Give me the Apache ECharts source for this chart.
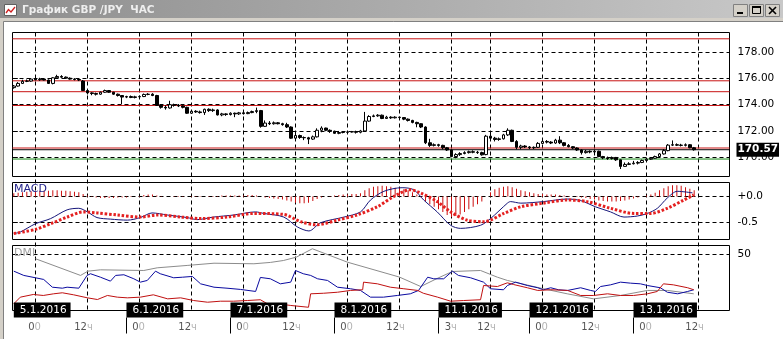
<!DOCTYPE html>
<html><head><meta charset="utf-8">
<script src="https://cdn.jsdelivr.net/npm/echarts@6.0.0/dist/echarts.min.js"></script>
<style>html,body{margin:0;padding:0;background:#d4d0c8;}#c{width:783px;height:339px;background:#fff;}</style>
</head><body><div id="c"></div>
<script>
// ---- data (hourly bars, index 0 = 4.1.2016 19:00) ----
const candleOHLC = [
[175.30,175.42,175.22,175.50],[175.42,175.62,175.38,175.72],[175.62,175.78,175.58,175.90],[175.78,175.80,175.72,175.92],
[175.80,175.95,175.75,176.02],[175.95,175.90,175.85,176.00],[175.90,175.95,175.82,176.05],[175.95,175.88,175.85,176.00],
[175.88,175.62,175.58,175.92],[175.62,176.05,175.55,176.10],[176.05,176.15,176.00,176.28],[176.15,176.10,176.05,176.25],
[176.10,176.02,175.98,176.15],[176.02,175.95,175.90,176.08],[175.95,175.92,175.85,176.02],[175.92,175.88,175.80,176.00],
[175.80,175.08,175.04,175.88],[175.08,174.90,174.78,175.10],[174.90,174.85,174.72,174.95],[174.85,174.80,174.70,174.92],
[174.80,174.95,174.75,175.00],[174.95,175.08,174.90,175.15],[175.08,174.95,174.90,175.12],[174.95,174.80,174.75,174.98],
[174.80,174.70,174.62,174.85],[174.70,174.58,174.05,174.72],[174.58,174.62,174.50,174.68],[174.62,174.55,174.50,174.70],
[174.55,174.60,174.48,174.68],[174.60,174.62,174.55,174.70],[174.62,174.78,174.58,174.85],[174.78,174.80,174.72,174.88],
[174.80,174.70,174.65,174.88],[174.70,173.95,173.90,174.75],[173.95,173.80,173.70,174.00],[173.80,173.75,173.62,173.95],
[173.75,174.00,173.70,174.30],[174.00,173.95,173.85,174.08],[173.95,173.90,173.82,174.05],[173.90,173.80,173.72,173.95],
[173.80,173.35,173.30,173.85],[173.35,173.50,173.30,173.60],[173.50,173.45,173.38,173.58],[173.45,173.40,173.32,173.55],
[173.40,173.65,173.22,173.70],[173.65,173.55,173.45,173.72],[173.55,173.60,173.45,173.70],[173.60,173.22,173.18,173.65],
[173.22,173.30,173.12,173.38],[173.30,173.25,173.15,173.35],[173.25,173.35,173.18,173.42],[173.35,173.30,173.05,173.40],
[173.30,173.38,173.22,173.45],[173.38,173.32,173.25,173.45],[173.32,173.40,173.28,173.48],[173.40,173.48,173.35,173.55],
[173.48,173.55,173.35,173.78],[173.55,172.35,172.25,173.60],[172.35,172.60,172.30,172.80],[172.60,172.55,172.45,172.75],
[172.55,172.62,172.48,172.72],[172.62,172.55,172.50,172.68],[172.55,172.48,172.40,172.62],[172.48,172.30,172.22,172.62],
[172.30,171.45,171.40,172.35],[171.45,171.65,171.30,171.80],[171.65,171.50,171.40,171.72],[171.50,171.48,171.30,171.58],
[171.48,171.38,171.00,171.55],[171.38,171.55,171.32,171.65],[171.55,172.05,171.50,172.20],[172.05,172.22,171.90,172.35],
[172.22,172.05,171.98,172.25],[172.05,171.98,171.85,172.12],[171.98,171.82,171.78,172.02],[171.82,171.88,171.75,172.00],
[171.88,171.90,171.82,171.95],[171.90,171.92,171.82,172.00],[171.92,171.95,171.88,172.00],[171.95,171.90,171.80,172.02],
[171.90,172.00,171.82,172.08],[172.00,172.75,171.95,173.45],[172.75,173.10,172.70,173.20],[173.10,173.15,173.05,173.25],
[173.15,173.20,173.08,173.28],[173.20,172.95,172.90,173.25],[172.95,173.05,172.92,173.15],[173.05,173.00,172.92,173.12],
[173.00,173.05,172.95,173.12],[173.05,173.02,172.95,173.08],[173.02,172.90,172.82,173.05],[172.90,172.80,172.72,172.95],
[172.80,172.65,172.58,172.85],[172.65,172.55,172.28,172.70],[172.55,172.30,172.22,172.58],[172.30,171.10,171.00,172.35],
[171.10,170.90,170.78,171.40],[170.90,170.95,170.82,171.05],[170.95,170.90,170.80,171.02],[170.90,170.72,170.60,170.95],
[170.72,170.55,170.48,170.78],[170.55,170.05,170.00,170.60],[170.05,170.20,169.92,170.30],[170.20,170.28,170.10,170.38],
[170.28,170.35,170.22,170.45],[170.35,170.42,170.28,170.50],[170.42,170.38,170.30,170.52],[170.38,170.35,170.25,170.48],
[170.35,170.18,170.12,170.42],[170.20,171.60,170.15,171.70],[171.60,171.45,171.30,171.82],[171.45,171.35,171.20,171.55],
[171.35,171.40,171.25,171.50],[171.40,171.70,171.35,171.78],[171.70,172.05,171.62,172.20],[172.05,171.20,171.15,172.10],
[171.20,170.75,170.60,171.30],[170.75,170.85,170.60,170.95],[170.85,170.78,170.70,170.92],[170.78,170.72,170.62,170.85],
[170.72,170.75,170.62,170.82],[170.75,171.05,170.70,171.15],[171.05,171.20,171.00,171.35],[171.20,171.15,171.05,171.30],
[171.15,171.08,171.00,171.22],[171.08,171.30,171.02,171.40],[171.30,171.10,171.00,171.60],[171.10,170.90,170.82,171.15],
[170.90,170.80,170.75,171.00],[170.80,170.70,170.62,170.85],[170.70,170.55,170.48,170.75],[170.55,170.35,170.20,170.62],
[170.35,170.45,170.28,170.55],[170.45,170.40,170.30,170.52],[170.40,170.45,170.32,170.58],[170.45,170.05,170.00,170.50],
[170.05,169.95,169.85,170.10],[169.95,169.90,169.80,170.05],[169.90,169.98,169.82,170.05],[169.98,169.80,169.72,170.02],
[169.80,169.30,169.10,169.82],[169.30,169.45,169.28,169.60],[169.45,169.50,169.40,169.62],[169.50,169.55,169.45,169.72],
[169.55,169.60,169.45,169.70],[169.60,169.75,169.55,169.82],[169.75,169.85,169.70,169.95],[169.85,169.92,169.80,170.00],
[169.92,170.05,169.88,170.12],[170.05,170.25,170.00,170.32],[170.25,170.50,170.20,170.62],[170.50,170.92,170.45,171.00],
[170.92,170.95,170.85,171.28],[170.95,170.92,170.85,171.05],[170.92,170.90,170.82,171.02],[170.90,170.95,170.82,171.05],
[170.95,170.72,170.68,171.00],[170.72,170.57,170.50,170.78]
];
const histVals = [
0.06,0.07,0.08,0.09,0.10,0.10,0.11,0.11,0.11,0.12,
0.12,0.11,0.11,0.10,0.09,0.08,0.05,0.02,-0.01,-0.02,
-0.03,-0.03,-0.03,-0.03,-0.02,-0.02,-0.02,-0.01,0,0.01,
0.03,0.04,0.04,0.02,0.01,0,0,0.01,0.01,0.01,
0,-0.01,-0.01,-0.01,0,0.01,0.01,0.01,0.02,0.02,
0.02,0.02,0.02,0.02,0.03,0.03,0.02,0,-0.02,-0.03,
-0.04,-0.05,-0.06,-0.08,-0.10,-0.12,-0.13,-0.13,-0.12,-0.09,
-0.05,-0.02,0,0.01,0.02,0.03,0.04,0.04,0.05,0.05,
0.06,0.12,0.16,0.19,0.20,0.21,0.20,0.19,0.17,0.16,
0.14,0.12,0.08,0.04,-0.02,-0.10,-0.15,-0.20,-0.25,-0.30,
-0.36,-0.40,-0.38,-0.35,-0.30,-0.25,-0.20,-0.15,-0.10,0,
0.08,0.14,0.17,0.19,0.20,0.18,0.15,0.12,0.10,0.08,
0.06,0.05,0.05,0.04,0.04,0.04,0.03,0.02,0.01,0,
-0.01,-0.02,-0.03,-0.05,-0.06,-0.08,-0.09,-0.10,-0.10,-0.10,
-0.09,-0.08,-0.06,-0.04,-0.02,0,0.02,0.04,0.07,0.12,
0.16,0.20,0.22,0.22,0.21,0.18,0.15,0.12
];
const macdPts = [[0,-0.72],[1.5,-0.69],[5,-0.53],[8.5,-0.43],[12.3,-0.26],[15,-0.23],[17,-0.30],[19.2,-0.41],[22.3,-0.44],[26.2,-0.46],[29.2,-0.41],[31.9,-0.32],[35.4,-0.36],[40,-0.41],[42.3,-0.45],[46.1,-0.40],[50.8,-0.36],[55.8,-0.30],[57.7,-0.33],[62.3,-0.40],[65.4,-0.59],[68.1,-0.67],[70.8,-0.51],[76.2,-0.40],[80,-0.30],[82.3,-0.07],[85.4,0.10],[89.6,0.17],[92.3,0.13],[94.6,-0.07],[97.7,-0.30],[100.8,-0.56],[103.1,-0.62],[107.7,-0.56],[110,-0.43],[113.9,-0.13],[114.6,-0.10],[117,-0.13],[122.2,-0.10],[127.7,-0.05],[130.8,-0.08],[134.2,-0.20],[137.7,-0.30],[140.8,-0.40],[143.9,-0.38],[146.2,-0.33],[148.5,-0.23],[150.8,-0.03],[153.1,0.10],[156.6,0.07]];
const signalPts = [[0,-0.72],[5,-0.64],[8.5,-0.53],[12.3,-0.40],[16.1,-0.30],[19.2,-0.32],[23.9,-0.36],[29.2,-0.40],[33.1,-0.36],[38.5,-0.40],[43.1,-0.43],[49.2,-0.40],[55.4,-0.33],[62.3,-0.35],[66.2,-0.49],[70,-0.55],[74.6,-0.46],[79.2,-0.36],[83.9,-0.20],[87.7,0.0],[91.5,0.13],[93.8,0.07],[97.7,-0.10],[100.8,-0.30],[104.6,-0.46],[108.5,-0.49],[113.1,-0.33],[117,-0.20],[122.2,-0.13],[127.7,-0.07],[132.3,-0.10],[137.7,-0.23],[143.1,-0.33],[146.9,-0.33],[150.8,-0.23],[154.6,-0.07],[156.9,0.03]];
const adxPts = [[5,46.2],[15.4,31.3],[17.1,35.1],[20,36.3],[30,35.7],[33.1,38.1],[40,40.2],[46.2,42.2],[55.4,41.7],[59.2,42.9],[62.2,44.6],[65.2,47.6],[68.9,55.1],[73,49],[77,43.1],[89,29.8],[93.9,21.4],[97.7,28.6],[101.2,34.8],[107.7,35.7],[111.6,29.7],[113.9,26.8],[122.2,19.4],[127.7,14.9],[133.8,10.4],[140,13.4],[146.2,17.9],[150.8,17.9],[156.9,14.9]];
const plusDiPts = [[0,35.1],[2.3,31.3],[5,29.2],[6.9,27.7],[8.9,20.8],[11.2,19.9],[12.3,20.8],[15,19.9],[16.9,31.3],[17.7,32.8],[20,29.7],[22.3,26.2],[23.5,31.3],[25.4,31.9],[27.7,28.3],[29.2,25.3],[30.8,26.8],[32.7,35.1],[33.8,32.8],[36.9,29.2],[38.9,29.7],[41.2,30.4],[43.1,23.8],[46.2,20.8],[49.2,19.9],[52.3,18.8],[55.8,17],[56.9,29.5],[59.2,28.3],[61.5,23.8],[63.9,25.3],[65,35.7],[66.8,32.8],[68.5,31.3],[70.1,28.3],[72.4,26.8],[74.7,20.8],[77.7,19.4],[80,17.9],[82.3,11.9],[85.3,11.9],[88.5,13.4],[91.5,14.9],[93.4,17.9],[95.5,29.7],[96.9,28.3],[99.2,28.3],[101.2,35.1],[102.6,31.3],[105.4,29.2],[108.4,25.3],[110,19.4],[113,18.5],[113.9,22.3],[115.8,25.3],[118.5,22.3],[120.9,20.3],[122.2,18.5],[123.9,20.3],[125.7,18.5],[127.8,17.9],[130.8,20.3],[133.1,17.9],[134.2,17],[135.4,21.4],[137.7,22.9],[140,25.3],[142.3,24.4],[144.6,23.8],[146.2,22.3],[149.2,20.3],[150.8,16.3],[153.2,14.9],[155.5,17],[156.9,18.5]];
const minusDiPts = [[0,6],[1.5,11.9],[4.5,14.3],[6.8,13.4],[9.2,14.9],[11.2,15.8],[13.8,14],[17,11.3],[19.3,9.8],[21.6,13.4],[23.9,11.9],[26.2,11.3],[29.2,11.9],[32.2,14],[35.5,10.4],[38.5,11.3],[41.5,8.9],[44.7,7.4],[47.7,8.3],[50.7,8.3],[53.9,8.9],[56.9,9.6],[58.5,6],[60.8,6],[63.9,4.5],[68,2.9],[68.5,14.9],[71.5,15.4],[74.7,16.3],[77.7,17.9],[80.5,18.5],[80.7,25.3],[83.9,23.8],[86.9,20.8],[90,19.4],[93.2,17.9],[94.5,15.4],[97.8,11.9],[100.8,8.3],[103.8,8.9],[107.7,9.6],[108.4,22.3],[111.6,21.4],[113.9,24.7],[115.3,23.2],[118.5,20.3],[120.9,17.9],[123.9,18.5],[127.8,17.9],[130.8,13.4],[133.8,13.4],[137,14.9],[140,13.4],[143,13.4],[146.2,14.9],[148.5,17],[149.9,23.8],[152.2,22.9],[155.5,20.3],[156.9,18.5]];
const gridTickIdx = [5,17,29,41,53,65,77,89,101,110,122,134,146,158];
const hourLabels = ['00','12ч','00','12ч','00','12ч','00','12ч','3ч','12ч','00','12ч','00','12ч'];
const dayBoxIdx = [0,26,50,74,98,119,143];
const dayLabels = ['5.1.2016','6.1.2016','7.1.2016','8.1.2016','11.1.2016','12.1.2016','13.1.2016'];
const priceTicks = [170,172,174,176,178];
const macdTicks = [-0.5,0];
const dmiTicks = [50];
const redLevels = [170.70,173.94,174.99,175.82,179.02];
const bidPrice = 170.57;
const greenLevel = 169.86;

// ---- build ----
const FONT = 'DejaVu Sans';
const XMIN = -0.3, XMAX = 165.15;
const PMIN = 168.53, PMAX = 179.5;
const candles = candleOHLC.map((r,i)=>[i,r[0],r[1],r[2],r[3]]);
const hist = histVals.map((v,i)=>[i,v]);
const hourPos = gridTickIdx.map(t=>t+1.25);
const dash = {type:[4,3],color:'#000',width:1};
function findIdx(arr,v){for(let k=0;k<arr.length;k++){if(Math.abs(arr[k]-v)<0.01)return k;}return -1;}

const hidX = g => ({type:'value',gridIndex:g,min:XMIN,max:XMAX,show:false});
const yLab = {fontSize:10.5,fontFamily:FONT,color:'#000',margin:8,padding:[4,0,0,0]};
const yTick = {show:true,length:4,inside:false,lineStyle:{color:'#000',width:1}};
// a horizontal level across the full price panel, drawn as a line series on the price axes
const levelSeries = (v,color,z) => ({type:'line',xAxisIndex:0,yAxisIndex:0,silent:true,showSymbol:false,z:z,
  data:[[XMIN,v],[XMAX,v]],lineStyle:{color:color,width:1,type:'solid'}});

const option = {
  animation:false,
  backgroundColor:'#fff',
  grid:[
    {left:12.5,top:32.5,width:717,height:144,show:true,borderColor:'#000',borderWidth:1,backgroundColor:'transparent'},
    {left:12.5,top:182.5,width:717,height:57,show:true,borderColor:'#000',borderWidth:1,backgroundColor:'transparent'},
    {left:12.5,top:245.5,width:717,height:65,show:true,borderColor:'#000',borderWidth:1,backgroundColor:'transparent'},
    {left:12.5,top:32.5,width:717,height:279,show:false}
  ],
  xAxis:[
    hidX(0),hidX(1),hidX(2),
    {type:'value',gridIndex:3,min:XMIN,max:XMAX,axisLine:{show:false},
     axisTick:{show:false,customValues:gridTickIdx},axisLabel:{show:false,customValues:gridTickIdx},
     splitLine:{show:true,lineStyle:dash}},
    {type:'value',gridIndex:2,min:XMIN,max:XMAX,position:'bottom',offset:7,z:50,
     axisLine:{show:false},splitLine:{show:false},
     axisTick:{show:true,customValues:dayBoxIdx.slice(1),length:16,inside:false,lineStyle:{color:'#000',width:1}},
     axisLabel:{show:true,inside:true,margin:0,customValues:dayBoxIdx,align:'left',
       formatter:v=>{const k=findIdx(dayBoxIdx,v);return k<0?'':'{s|}{t|'+dayLabels[k]+'}';},
       backgroundColor:'#000',padding:[2,4,1,0],
       rich:{s:{width:6},t:{color:'#fff',fontSize:10.5,fontFamily:FONT}}}},
    {type:'value',gridIndex:2,min:XMIN,max:XMAX,position:'bottom',offset:7,z:50,
     axisLine:{show:false},splitLine:{show:false},axisTick:{show:false},
     axisLabel:{show:true,margin:5,customValues:hourPos,align:'right',
       formatter:v=>{const k=findIdx(hourPos,v);if(k<0)return '';const s=hourLabels[k];
         return s.endsWith('ч')?'{d|'+s.slice(0,-1)+'}{l|ч}':'{d|'+s[0]+'}{l|'+s.slice(1)+'}';},
       rich:{d:{color:'#555',fontSize:10,fontFamily:FONT},l:{color:'#b4b4b4',fontSize:10,fontFamily:FONT}}}}
  ],
  yAxis:[
    {type:'value',gridIndex:0,position:'right',min:PMIN,max:PMAX,axisLine:{show:false},
     splitLine:{show:true,lineStyle:dash},
     axisTick:Object.assign({customValues:priceTicks},yTick),
     axisLabel:Object.assign({customValues:priceTicks,formatter:v=>v.toFixed(2)},yLab)},
    {type:'value',gridIndex:1,position:'right',min:-0.836,max:0.271,axisLine:{show:false},
     splitLine:{show:true,lineStyle:dash},
     axisTick:Object.assign({customValues:macdTicks},yTick),
     axisLabel:Object.assign({customValues:macdTicks,formatter:v=>(v>=0?'+':'')+v.toFixed(1)},yLab)},
    {type:'value',gridIndex:2,position:'right',min:0,max:58,axisLine:{show:false},
     splitLine:{show:true,lineStyle:dash},
     axisTick:Object.assign({customValues:dmiTicks},yTick),
     axisLabel:Object.assign({customValues:dmiTicks,formatter:v=>String(v)},yLab)},
    {type:'value',gridIndex:3,min:0,max:1,show:false},
    {type:'value',gridIndex:0,position:'right',min:PMIN,max:PMAX,interval:PMAX-PMIN,z:10,
     axisLine:{show:false},axisTick:{show:false,customValues:[bidPrice]},splitLine:{show:false},
     axisLabel:{show:true,customValues:[bidPrice],margin:7,formatter:v=>v.toFixed(2),color:'#fff',backgroundColor:'#000',
       fontWeight:'bold',fontSize:10.5,fontFamily:FONT,padding:[2,1,1,1]}}
  ],
  graphic:{elements:[
    {type:'rect',z:-10,silent:true,shape:{x:0,y:0,width:783,height:22},style:{fill:'#d4d0c8'}},
    {type:'rect',z:-9,silent:true,shape:{x:0,y:0,width:783,height:18},
     style:{fill:new echarts.graphic.LinearGradient(0,0,1,0,[{offset:0,color:'#8e8e8e'},{offset:1,color:'#c8c8c8'}])}},
    {type:'rect',z:-9,silent:true,shape:{x:0,y:22,width:3,height:317},style:{fill:'#d4d0c8'}},
    {type:'line',silent:true,shape:{x1:3.5,y1:21.5,x2:3.5,y2:339},style:{stroke:'#808080',lineWidth:1}},
    {type:'line',silent:true,shape:{x1:3.5,y1:21.5,x2:783,y2:21.5},style:{stroke:'#808080',lineWidth:1}},
    {type:'rect',silent:true,shape:{x:4.5,y:4.5,width:12,height:11},style:{fill:'#fff',stroke:'#606060',lineWidth:1}},
    {type:'polyline',silent:true,shape:{points:[[6,13],[8.5,9.5],[11,12],[15,7]]},style:{stroke:'#d02020',lineWidth:1.3,fill:null}},
    {type:'text',silent:true,x:22,y:10,style:{text:'График GBP /JPY  ЧАС',fill:'#eeeeee',fontSize:10.5,fontWeight:'bold',fontFamily:FONT,verticalAlign:'middle'}},
    {type:'rect',silent:true,shape:{x:733.5,y:4.5,width:14,height:12},style:{fill:'#d4d0c8',stroke:'#808080',lineWidth:1}},
    {type:'rect',silent:true,shape:{x:737,y:12,width:6,height:2},style:{fill:'#000'}},
    {type:'rect',silent:true,shape:{x:749.5,y:4.5,width:14,height:12},style:{fill:'#d4d0c8',stroke:'#808080',lineWidth:1}},
    {type:'rect',silent:true,shape:{x:752.5,y:6.5,width:8,height:7},style:{fill:null,stroke:'#000',lineWidth:1}},
    {type:'rect',silent:true,shape:{x:752,y:6,width:9,height:2},style:{fill:'#000'}},
    {type:'rect',silent:true,shape:{x:765.5,y:4.5,width:14,height:12},style:{fill:'#d4d0c8',stroke:'#808080',lineWidth:1}},
    {type:'line',silent:true,shape:{x1:769,y1:7,x2:776,y2:14},style:{stroke:'#000',lineWidth:1.6}},
    {type:'line',silent:true,shape:{x1:776,y1:7,x2:769,y2:14},style:{stroke:'#000',lineWidth:1.6}},
    {type:'text',silent:true,x:14,y:189,z:10,style:{text:'MACD',fill:'#23238a',fontSize:11,fontFamily:FONT,verticalAlign:'middle'}},
    {type:'text',silent:true,x:14,y:253,z:10,style:{text:'DMI',fill:'#a0a0a0',fontSize:11,fontFamily:FONT,verticalAlign:'middle'}}
  ]},
  series:[].concat(
    redLevels.map(v=>levelSeries(v,'#c81414',1)),
    [levelSeries(greenLevel,'#168a16',1), levelSeries(bidPrice,'#000000',2)],
    [
    {type:'candlestick',xAxisIndex:0,yAxisIndex:0,data:candles,encode:{x:0,y:[1,2,3,4]},barWidth:3,z:3,
     itemStyle:{color:'#ffffff',color0:'#000000',borderColor:'#000000',borderColor0:'#000000',borderWidth:1}},
    {type:'bar',xAxisIndex:1,yAxisIndex:1,data:hist,barWidth:1,z:2,itemStyle:{color:'#cc1010'}},
    {type:'line',xAxisIndex:1,yAxisIndex:1,data:macdPts,showSymbol:false,smooth:0.3,z:3,lineStyle:{color:'#15157a',width:1}},
    {type:'line',xAxisIndex:1,yAxisIndex:1,data:signalPts,showSymbol:false,smooth:0.3,z:4,lineStyle:{color:'#e42020',width:3,type:[2.5,1.8]}},
    {type:'line',xAxisIndex:2,yAxisIndex:2,data:adxPts,showSymbol:false,z:3,lineStyle:{color:'#8c8c8c',width:1}},
    {type:'line',xAxisIndex:2,yAxisIndex:2,data:plusDiPts,showSymbol:false,z:4,lineStyle:{color:'#0a0aa0',width:1}},
    {type:'line',xAxisIndex:2,yAxisIndex:2,data:minusDiPts,showSymbol:false,z:4,lineStyle:{color:'#c01010',width:1}}
    ])
};
const chart = echarts.init(document.getElementById('c'),null,{renderer:'canvas'});
chart.setOption(option);
</script></body></html>
